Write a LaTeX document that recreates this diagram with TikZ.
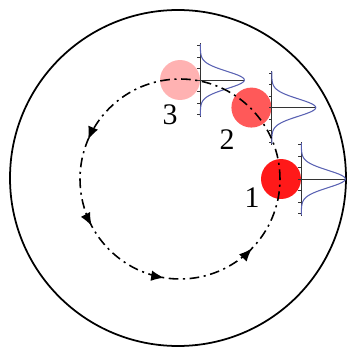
\documentclass[tikz,border=0pt]{standalone}
\usepackage{fontspec}
\setmainfont{Liberation Serif}
\usepackage{tikz}
\usetikzlibrary{arrows.meta, positioning, decorations.markings}

\definecolor{gaussblue}{RGB}{88,96,178}

\begin{document}
\begin{tikzpicture}[
    x=0.02cm, y=0.02cm,
    >=Latex,
    ball/.style={circle, inner sep=0pt, minimum size=0.8cm},
    axisline/.style={black!80, line width=0.5pt},
    gauss/.style={gaussblue, line width=0.6pt},
    orbit/.style={line width=0.9pt, dash pattern=on 5.5pt off 2.6pt on 1.2pt off 2.6pt},
    orbittip/.tip={Latex[length=7.5pt, width=6pt]},
    every node/.style={font=\fontsize{17}{19}\selectfont}
  ]
  \useasboundingbox (-180,-170) rectangle (166,179);

  % ---- outer boundary ----
  \draw[line width=1pt] (-2,1) circle (168);

  % ---- particles ----
  \node[ball, fill=red!90] (b1) at (0:101) {};
  \node[ball, fill=red!65] (b2) at (45:101) {};
  \node[ball, fill=red!30] (b3) at (90:99) {};

  % Distributions
  \foreach \b in {b1,b2,b3} {
    \begin{scope}[shift={(\b.east)}]
      \draw[axisline] (0,-37) -- (0,37);
      \foreach \t in {-3,...,3}
        \draw[axisline] (0,\t*11.5) -- ++(-3,0);
      \draw[axisline] (0,0) -- (44,0);
      \draw[gauss] plot[domain=-36:36, samples=73, smooth] ({44*exp(-\x*\x/150)}, \x);
    \end{scope}
  }

  % ---- orbit ----
  \draw[orbit, postaction={decorate}, decoration={markings,
      mark=at position 0.436 with {\arrow[solid]{orbittip}},
      mark=at position 0.578 with {\arrow[solid]{orbittip}},
      mark=at position 0.725 with {\arrow[solid]{orbittip}},
      mark=at position 0.878 with {\arrow[solid]{orbittip}}}]
    (0:100) arc (0:360:100);

  % Labels
  \node (l1) at (72,-19) {1};
  \node (l2) at (47,39) {2};
  \node (l3) at (-10,64) {3};
\end{tikzpicture}
\end{document}
